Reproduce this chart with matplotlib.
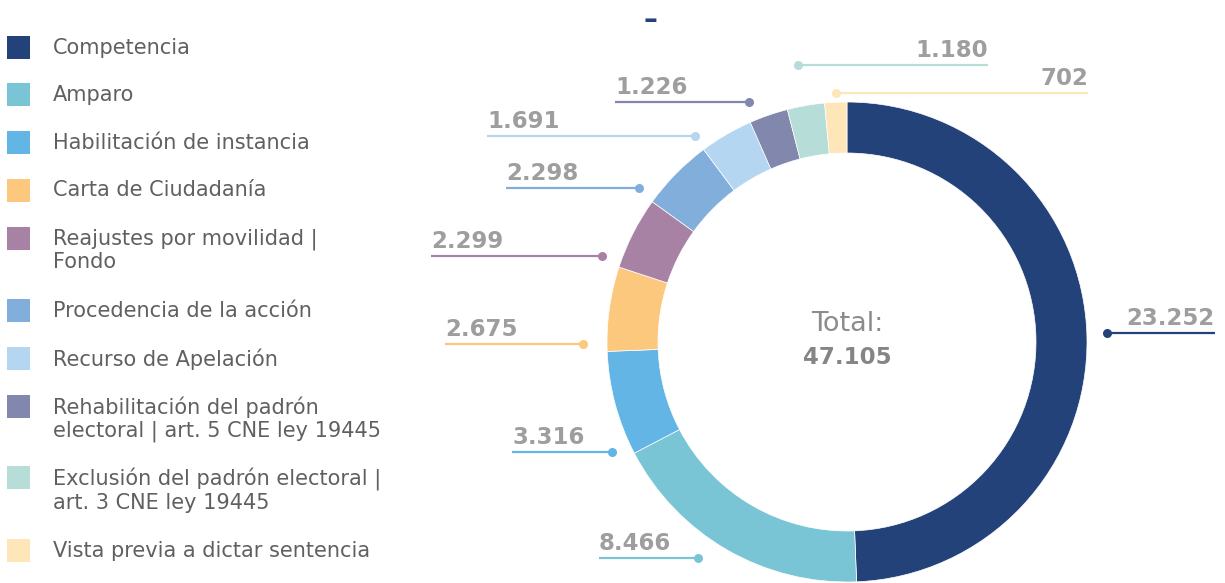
import matplotlib
matplotlib.use('Agg')
import matplotlib.pyplot as plt
from matplotlib.patches import Rectangle

# data
categories = [
    'Competencia',
    'Amparo',
    'Habilitación de instancia',
    'Carta de Ciudadanía',
    'Reajustes por movilidad |\nFondo',
    'Procedencia de la acción',
    'Recurso de Apelación',
    'Rehabilitación del padrón\nelectoral | art. 5 CNE ley 19445',
    'Exclusión del padrón electoral |\nart. 3 CNE ley 19445',
    'Vista previa a dictar sentencia',
]
values = [23252, 8466, 3316, 2675, 2299, 2298, 1691, 1226, 1180, 702]
value_labels = ['23.252', '8.466', '3.316', '2.675', '2.299', '2.298', '1.691', '1.226', '1.180', '702']
total_label = '47.105'
colors = ['#23427a', '#7ac5d5', '#62b5e5', '#fcc87e', '#a882a5',
          '#82aedc', '#b5d6f0', '#8187ad', '#b7ddd9', '#ffe6b8']

# layout (pixel coords, y from top)
W, H = 1225, 583
center = (847, 342)
r_out, ring = 240, 51
legend_y = [47, 94.5, 142.5, 190, 238, 310.5, 358.5, 406.5, 477.5, 550.5]
dot_xy = [(1107, 333), (698, 558), (612, 452), (583, 344), (602, 256),
          (639, 188), (695, 136), (749, 102), (798, 65), (836, 93)]
line_end_x = [1215, 599, 512, 445, 431, 506, 487, 615, 988, 1088]

NUM_GRAY = '#9e9e9e'
TXT_GRAY = '#606060'


def fy(y):
    return H - y


fig = plt.figure(figsize=(W / 100, H / 100), dpi=100)
ax = fig.add_axes([0, 0, 1, 1])

ax.pie(values, colors=colors, radius=r_out, center=(center[0], fy(center[1])),
       startangle=90, counterclock=False,
       wedgeprops={'width': ring, 'edgecolor': 'white', 'linewidth': 0.5})
ax.set_xlim(0, W)
ax.set_ylim(0, H)
ax.set_aspect('equal')
ax.axis('off')

# leader lines + value labels
for (dx, dy), ex, lab, c in zip(dot_xy, line_end_x, value_labels, colors):
    ax.plot([dx, ex], [fy(dy), fy(dy)], color=c, lw=1.6, solid_capstyle='butt')
    ax.plot(dx, fy(dy), 'o', color=c, ms=6.5, mec='none')
    ha = 'right' if ex > dx else 'left'
    ax.text(ex, fy(dy - 8), lab, ha=ha, va='baseline', fontsize=16.5,
            fontweight='bold', color=NUM_GRAY)

# center text
ax.text(center[0], fy(324), 'Total:', ha='center', va='center', fontsize=19.5, color='#8c8c8c')
ax.text(center[0], fy(358), total_label, ha='center', va='center', fontsize=16.5,
        fontweight='bold', color='#858585')

# legend (square aligned with the first text line)
for cat, c, y in zip(categories, colors, legend_y):
    ax.add_patch(Rectangle((7, fy(y + 11.5)), 23, 23, color=c, lw=0))
    ax.text(53, fy(y - 9.5), cat, ha='left', va='top', fontsize=15,
            color=TXT_GRAY, linespacing=1.15)

# little dash title
ax.text(650, fy(20.5), '–', ha='center', va='center', fontsize=20,
        fontweight='bold', color='#23427a')

fig.savefig('out.png', dpi=100)
